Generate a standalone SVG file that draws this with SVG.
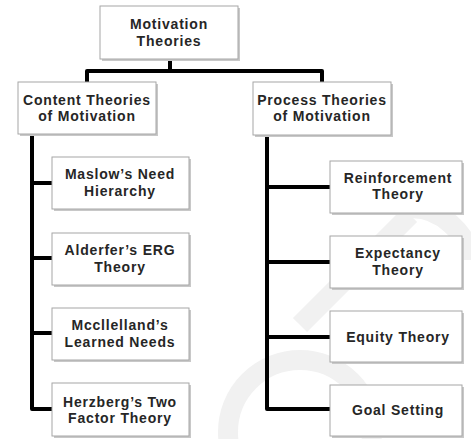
<svg xmlns="http://www.w3.org/2000/svg" width="471" height="439" viewBox="0 0 471 439">
<style>
.box{fill:#fff;stroke:#a6a6a6;stroke-width:1}
.sh{fill:#c8c8c8}
.t{font-family:"Liberation Sans",Arial,sans-serif;font-weight:bold;font-size:14px;letter-spacing:0.8px;fill:#262626;text-anchor:middle}
.c{fill:none;stroke:#000;stroke-width:4;stroke-linejoin:round;stroke-linecap:square}
.wm{fill:none;stroke:#f1f1f1;stroke-width:20}
</style>
<rect width="471" height="439" fill="#fff"/>
<g id="watermark">
<circle class="wm" cx="300" cy="432" r="72"/>
<path class="wm" d="M300,325 L410,215"/>
<path class="wm" d="M400,210 C440,200 471,240 471,260"/>
</g>
<g id="connectors">
<path class="c" d="M170,59 V71 M87,82 V71 H322 V82"/>
<path class="c" d="M32,134 V409 H52 M32,183 H52 M32,258 H52 M32,333 H52"/>
<path class="c" d="M267,135 V409 H330 M267,187 H330 M267,262 H330 M267,337 H330"/>
</g>
<g id="n-root"><rect class="sh" x="102" y="8" width="138" height="53"/><rect class="box" x="100" y="6" width="138" height="53"/><text class="t" x="169" y="29">Motivation</text><text class="t" x="169" y="46">Theories</text></g>
<g id="n-content"><rect class="sh" x="20" y="84" width="138" height="52"/><rect class="box" x="18" y="82" width="138" height="52"/><text class="t" x="87" y="105">Content Theories</text><text class="t" x="87" y="121">of Motivation</text></g>
<g id="n-process"><rect class="sh" x="255" y="84" width="138" height="53"/><rect class="box" x="253" y="82" width="138" height="53"/><text class="t" x="322" y="105">Process Theories</text><text class="t" x="322" y="121">of Motivation</text></g>
<g id="n-maslow"><rect class="sh" x="54" y="159" width="137" height="52"/><rect class="box" x="52" y="157" width="137" height="52"/><text class="t" x="120" y="179">Maslow’s Need</text><text class="t" x="120" y="196">Hierarchy</text></g>
<g id="n-alderfer"><rect class="sh" x="54" y="235" width="137" height="52"/><rect class="box" x="52" y="233" width="137" height="52"/><text class="t" x="120" y="255">Alderfer’s ERG</text><text class="t" x="120" y="272">Theory</text></g>
<g id="n-mcclelland"><rect class="sh" x="54" y="310" width="137" height="52"/><rect class="box" x="52" y="308" width="137" height="52"/><text class="t" x="120" y="330">Mccllelland’s</text><text class="t" x="120" y="347">Learned Needs</text></g>
<g id="n-herzberg"><rect class="sh" x="54" y="385" width="137" height="53"/><rect class="box" x="52" y="383" width="137" height="53"/><text class="t" x="120" y="407">Herzberg’s Two</text><text class="t" x="120" y="423">Factor Theory</text></g>
<g id="n-reinforcement"><rect class="sh" x="332" y="163" width="132" height="52"/><rect class="box" x="330" y="161" width="132" height="52"/><text class="t" x="398" y="183">Reinforcement</text><text class="t" x="398" y="199">Theory</text></g>
<g id="n-expectancy"><rect class="sh" x="332" y="238" width="132" height="52"/><rect class="box" x="330" y="236" width="132" height="52"/><text class="t" x="398" y="258">Expectancy</text><text class="t" x="398" y="275">Theory</text></g>
<g id="n-equity"><rect class="sh" x="332" y="313" width="132" height="51"/><rect class="box" x="330" y="311" width="132" height="51"/><text class="t" x="398" y="342">Equity Theory</text></g>
<g id="n-goal"><rect class="sh" x="332" y="387" width="132" height="51"/><rect class="box" x="330" y="385" width="132" height="51"/><text class="t" x="398" y="415">Goal Setting</text></g>
</svg>
